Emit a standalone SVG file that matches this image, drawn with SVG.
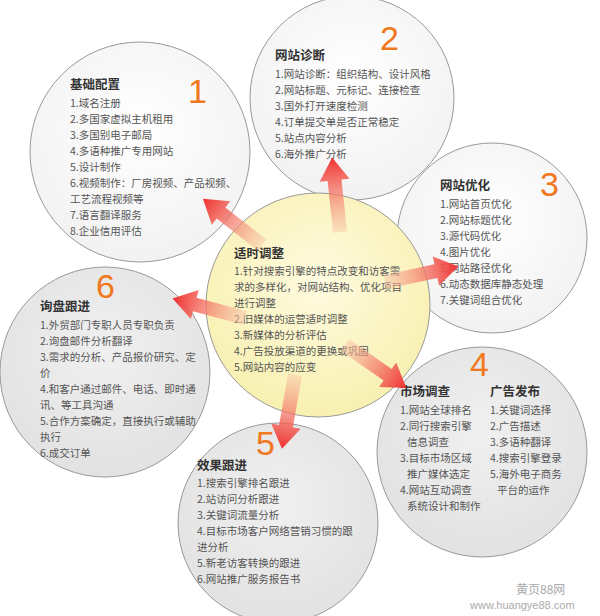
<svg xmlns="http://www.w3.org/2000/svg" width="600" height="616" viewBox="0 0 600 616">
<style>
.t{font-family:"Noto Sans CJK SC","Liberation Sans",sans-serif;font-size:10.5px;fill:#555}
.h{font-family:"Noto Sans CJK SC","Liberation Sans",sans-serif;font-size:12.5px;font-weight:bold;fill:#333}
.n{font-family:"Liberation Sans",sans-serif;font-size:34px;fill:#f07820}
.c{stroke:#999;stroke-width:1}
</style>
<defs>
<radialGradient id="w" cx="50%" cy="40%" r="60%"><stop offset="0" stop-color="#fff"/><stop offset="1" stop-color="#f2f2f2"/></radialGradient>
<radialGradient id="g" cx="50%" cy="40%" r="60%"><stop offset="0" stop-color="#f0f0f0"/><stop offset="1" stop-color="#e2e2e2"/></radialGradient>
<radialGradient id="y" cx="50%" cy="40%" r="60%"><stop offset="0" stop-color="#fffbe0"/><stop offset="1" stop-color="#f8f0b0"/></radialGradient>
<linearGradient id="a" x1="0" y1="0" x2="1" y2="0"><stop offset="0" stop-color="#f7c8a8" stop-opacity="0.5"/><stop offset="1" stop-color="#f03030"/></linearGradient>
<path id="arr" d="M0,-7 L52,-7 L52,-15 L75,0 L52,15 L52,7 L0,7 Z" fill="url(#a)"/>
</defs>
<rect width="600" height="616" fill="#fff"/>
<g id="node1"><circle class="c" cx="140" cy="152" r="110" fill="url(#w)"/>
<text class="h" x="70" y="89">基础配置</text><text class="n" x="188" y="103">1</text>
<text class="t" x="70" y="107">1.域名注册</text><text class="t" x="70" y="123">2.多国家虚拟主机租用</text><text class="t" x="70" y="139">3.多国别电子邮局</text><text class="t" x="70" y="155">4.多语种推广专用网站</text><text class="t" x="70" y="171">5.设计制作</text><text class="t" x="70" y="187">6.视频制作：厂房视频、产品视频、</text><text class="t" x="70" y="203">工艺流程视频等</text><text class="t" x="70" y="219">7.语言翻译服务</text><text class="t" x="70" y="235">8.企业信用评估</text></g>
<g id="node2"><circle class="c" cx="352" cy="98" r="102" fill="url(#w)"/>
<text class="h" x="275" y="60">网站诊断</text><text class="n" x="380" y="50">2</text>
<text class="t" x="275" y="78">1.网站诊断：组织结构、设计风格</text><text class="t" x="275" y="94">2.网站标题、元标记、连接检查</text><text class="t" x="275" y="110">3.国外打开速度检测</text><text class="t" x="275" y="126">4.订单提交单是否正常稳定</text><text class="t" x="275" y="142">5.站点内容分析</text><text class="t" x="275" y="158">6.海外推广分析</text></g>
<g id="node3"><circle class="c" cx="492" cy="238" r="95" fill="url(#w)"/>
<text class="h" x="440" y="190">网站优化</text><text class="n" x="540" y="196">3</text>
<text class="t" x="440" y="208">1.网站首页优化</text><text class="t" x="440" y="224">2.网站标题优化</text><text class="t" x="440" y="240">3.源代码优化</text><text class="t" x="440" y="256">4.图片优化</text><text class="t" x="440" y="272">5.网站路径优化</text><text class="t" x="440" y="288">6.动态数据库静态处理</text><text class="t" x="440" y="304">7.关键词组合优化</text></g>
<g id="node6"><circle class="c" cx="105" cy="372" r="105" fill="url(#g)"/>
<text class="n" x="96" y="298">6</text><text class="h" x="40" y="311">询盘跟进</text>
<text class="t" x="40" y="329">1.外贸部门专职人员专职负责</text><text class="t" x="40" y="345">2.询盘邮件分析翻译</text><text class="t" x="40" y="361">3.需求的分析、产品报价研究、定</text><text class="t" x="40" y="377">价</text><text class="t" x="40" y="393">4.和客户通过邮件、电话、即时通</text><text class="t" x="40" y="409">讯、等工具沟通</text><text class="t" x="40" y="425">5.合作方案确定，直接执行或辅助</text><text class="t" x="40" y="441">执行</text><text class="t" x="40" y="457">6.成交订单</text></g>
<g id="node4"><circle class="c" cx="482" cy="452" r="105" fill="url(#g)"/>
<text class="n" x="470" y="376">4</text><text class="h" x="400" y="396">市场调查</text><text class="h" x="490" y="396">广告发布</text>
<text class="t" x="400" y="414">1.网站全球排名</text><text class="t" x="400" y="430">2.同行搜索引擎</text><text class="t" x="407" y="446">信息调查</text><text class="t" x="400" y="462">3.目标市场区域</text><text class="t" x="407" y="478">推广媒体选定</text><text class="t" x="400" y="494">4.网站互动调查</text><text class="t" x="407" y="510">系统设计和制作</text>
<text class="t" x="490" y="414">1.关键词选择</text><text class="t" x="490" y="430">2.广告描述</text><text class="t" x="490" y="446">3.多语种翻译</text><text class="t" x="490" y="462">4.搜索引擎登录</text><text class="t" x="490" y="478">5.海外电子商务</text><text class="t" x="497" y="494">平台的运作</text></g>
<g id="node5"><circle class="c" cx="278" cy="523" r="100" fill="url(#g)"/>
<text class="n" x="256" y="455">5</text><text class="h" x="197" y="470">效果跟进</text>
<text class="t" x="197" y="487">1.搜索引擎排名跟进</text><text class="t" x="197" y="503">2.站访问分析跟进</text><text class="t" x="197" y="519">3.关键词流量分析</text><text class="t" x="197" y="535">4.目标市场客户网络营销习惯的跟</text><text class="t" x="197" y="551">进分析</text><text class="t" x="197" y="567">5.新老访客转换的跟进</text><text class="t" x="197" y="583">6.网站推广服务报告书</text></g>
<g id="center"><circle class="c" cx="318" cy="305" r="112" fill="url(#y)"/>
<text class="h" x="234" y="258">适时调整</text>
<text class="t" x="234" y="275">1.针对搜索引擎的特点改变和访客需</text><text class="t" x="234" y="291">求的多样化，对网站结构、优化项目</text><text class="t" x="234" y="307">进行调整</text><text class="t" x="234" y="323">2.旧媒体的运营适时调整</text><text class="t" x="234" y="339">3.新媒体的分析评估</text><text class="t" x="234" y="355">4.广告投放渠道的更换或巩固</text><text class="t" x="234" y="371">5.网站内容的应变</text></g>
<g id="connectors">
<use href="#arr" transform="translate(262,245) rotate(-142)"/>
<use href="#arr" transform="translate(340,232) rotate(-96)"/>
<use href="#arr" transform="translate(385,282) rotate(-12)"/>
<use href="#arr" transform="translate(245,318) rotate(195)"/>
<use href="#arr" transform="translate(345,345) rotate(35)"/>
<use href="#arr" transform="translate(295,375) rotate(100)"/>
</g>
<text x="516" y="594" style="font-family:'Noto Sans CJK SC',sans-serif;font-size:12px;fill:#aaa">黄页88网</text>
<text x="470" y="609" style="font-family:'Liberation Sans',sans-serif;font-size:11px;fill:#aaa">www.huangye88.com</text>
</svg>
